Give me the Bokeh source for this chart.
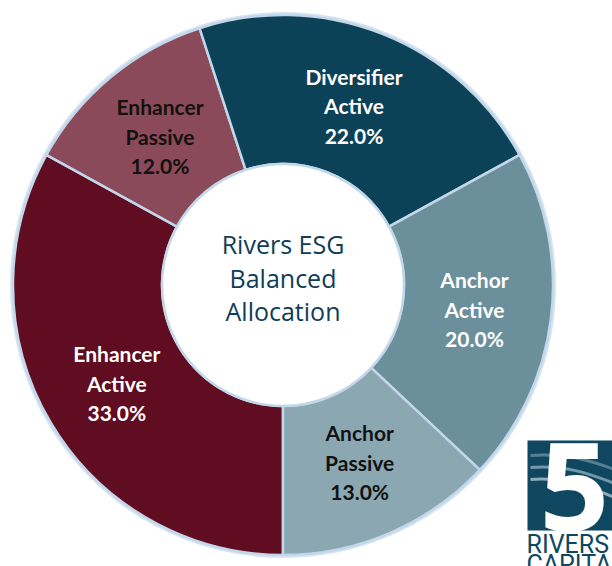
import math
from bokeh.plotting import figure
from bokeh.models import Range1d, ColumnDataSource
from bokeh.core.properties import value
from bokeh.embed import file_html
from bokeh.resources import INLINE

# ---- data ----
categories = ["Enhancer Active", "Enhancer Passive", "Diversifier Active", "Anchor Active", "Anchor Passive"]
label_lines = [["Enhancer", "Active"], ["Enhancer", "Passive"], ["Diversifier", "Active"], ["Anchor", "Active"], ["Anchor", "Passive"]]
shares = [33.0, 12.0, 22.0, 20.0, 13.0]
colors = ["#600c21", "#8b4a59", "#0c4258", "#6b8f9b", "#8ba7b1"]
label_colors = ["white", "#111111", "white", "white", "#111111"]
center_title = ["Rivers ESG", "Balanced", "Allocation"]
first_slice_angle = 180.0  # degrees clockwise from the top

W, H = 612, 566
cx, cy = 282.5, H - 284.5
R_OUT, R_IN = 270.0, 121.0

p = figure(width=W, height=H, x_range=Range1d(0, W), y_range=Range1d(0, H),
           output_backend="svg", toolbar_location=None, min_border=0,
           x_axis_location=None, y_axis_location=None)
p.grid.visible = False
p.outline_line_color = None
p.background_fill_color = "white"
p.border_fill_color = "white"

# wedges
starts, ends, mids = [], [], []
acc = first_slice_angle
for s in shares:
    a0 = acc
    a1 = acc + s / 100.0 * 360.0
    starts.append(math.radians(90 - a0))
    ends.append(math.radians(90 - a1))
    mids.append((a0 + a1) / 2)
    acc = a1

src = ColumnDataSource(dict(start=starts, end=ends, color=colors))

# soft outer glow
p.circle(x=[cx], y=[cy], radius=R_OUT + 1.5, fill_color=None, line_color="#d6e4f2", line_width=3)
p.annular_wedge(x=cx, y=cy, inner_radius=R_IN, outer_radius=R_OUT, start_angle="start", end_angle="end",
                direction="clock", fill_color="color", line_color="#c3d7ea", line_width=2.5, source=src)
p.circle(x=[cx], y=[cy], radius=R_IN, fill_color="white", line_color="#c3d7ea", line_width=2.5)

# slice labels
r_lab = 193.0
lx, ly, lt, lc = [], [], [], []
for lines, sh, m, col in zip(label_lines, shares, mids, label_colors):
    x0 = cx + r_lab * math.sin(math.radians(m))
    y0 = cy + r_lab * math.cos(math.radians(m))
    all_lines = lines + ["%.1f%%" % sh]
    for i, t in enumerate(all_lines):
        lx.append(x0)
        ly.append(y0 + 29.5 * (1 - i))
        lt.append(t)
        lc.append(col)
p.text(x=lx, y=ly, text=lt, text_color=lc, text_font=value("Lato"), text_font_style="bold",
       text_font_size="21px", text_align="center", text_baseline="middle")

# center title
p.text(x=[cx] * 3, y=[cy + 41, cy + 7, cy - 26], text=center_title, text_color="#0f3d55",
       text_font=value("Open Sans"), text_font_size="25px", text_align="center", text_baseline="middle")

# logo
p.quad(left=[527], right=[W + 5], top=[H - 440], bottom=[H - 530], fill_color="#0f4760", line_color=None)
for k, (a, c) in enumerate([(0.35, "#5f8598"), (0.55, "#7fa0b0"), (0.75, "#9bb6c3")]):
    p.bezier(x0=[530], y0=[H - 455 - 12 * k], x1=[W + 5], y1=[H - 470 - 14 * k],
             cx0=[570], cy0=[H - 452 - 12 * k], cx1=[595], cy1=[H - 462 - 14 * k],
             line_color=c, line_width=3, line_alpha=0.9)
p.text(x=[574], y=[H - 486], text=["5"], text_color="white", text_font=value("Open Sans"),
       text_font_style="bold", text_font_size="122px", text_align="center", text_baseline="middle")
p.text(x=[526], y=[H - 544], text=["RIVERS"], text_color="#0f4760", text_font=value("Roboto"),
       text_font_size="25px", text_align="left", text_baseline="middle")
p.text(x=[526], y=[H - 564], text=["CAPITAL"], text_color="#0f4760", text_font=value("Roboto"),
       text_font_size="25px", text_align="left", text_baseline="middle")

open("out.html", "w").write(file_html(p, INLINE))
